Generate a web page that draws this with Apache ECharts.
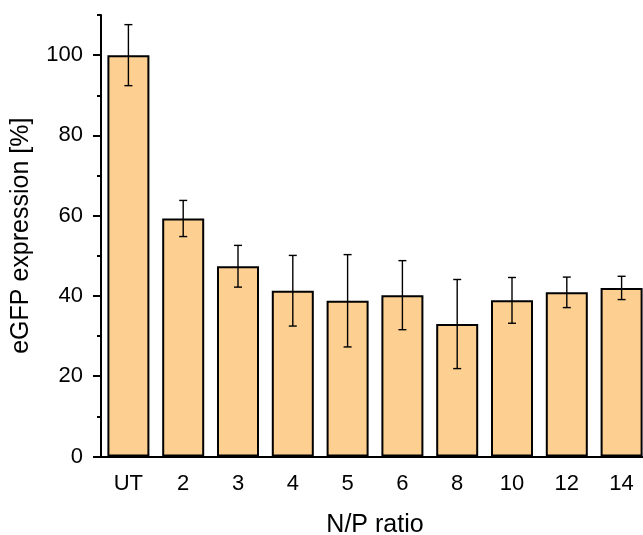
<!DOCTYPE html>
<html>
<head>
<meta charset="utf-8">
<script src="https://cdn.jsdelivr.net/npm/echarts@6/dist/echarts.min.js"></script>
<style>
  html, body { margin: 0; padding: 0; background: #ffffff; }
  #chart { width: 643px; height: 535px; }
</style>
</head>
<body>
<div id="chart"></div>
<script>
// N/P ratio groups and eGFP expression (mean ± SD, % of untreated)
var categories = ['UT', '2', '3', '4', '5', '6', '8', '10', '12', '14'];
var meanValues = [100, 59.3, 47.4, 41.3, 38.8, 40.2, 33.0, 38.9, 40.9, 42.0];
var sdValues   = [7.6, 4.5, 5.2, 8.8, 11.5, 8.6, 11.1, 5.7, 3.8, 2.9];
var majorTickValues = [0, 20, 40, 60, 80, 100];
var minorTickValues = [10, 30, 50, 70, 90, 110];

var FONT = 'Liberation Sans, Arial, sans-serif';
var INK = '#000000';

var errorData = meanValues.map(function (m, i) {
  return [i, m - sdValues[i], m + sdValues[i]];
});

var chart = echarts.init(document.getElementById('chart'), null, { renderer: 'canvas' });

chart.setOption({
  backgroundColor: '#ffffff',
  animation: false,
  grid: {
    left: 101, top: 15, bottom: 78.5, right: -6,
    containLabel: false,
    outerBoundsMode: 'none'
  },
  xAxis: [
    {
      type: 'category',
      data: categories,
      name: 'N/P ratio',
      nameLocation: 'middle',
      nameGap: 56,
      nameTextStyle: { fontFamily: FONT, fontSize: 25, color: INK },
      axisLine: { lineStyle: { color: INK, width: 2 } },
      axisTick: { alignWithLabel: true, length: 8, lineStyle: { color: INK, width: 2 } },
      axisLabel: { fontFamily: FONT, fontSize: 22, color: INK, margin: 16 },
      splitLine: { show: false }
    },
    {
      type: 'category',
      data: categories,
      position: 'bottom',
      axisLine: { show: false },
      axisTick: { length: 4, lineStyle: { color: INK, width: 2 } },
      axisLabel: { show: false },
      splitLine: { show: false }
    }
  ],
  yAxis: [
    {
      type: 'value',
      min: 0,
      max: 110,
      interval: 10,
      name: 'eGFP expression [%]',
      nameLocation: 'middle',
      nameGap: 67,
      nameTextStyle: { fontFamily: FONT, fontSize: 25, color: INK },
      axisLine: { show: true, lineStyle: { color: INK, width: 2 } },
      axisTick: { show: true, length: 8, customValues: majorTickValues, lineStyle: { color: INK, width: 2 } },
      axisLabel: { fontFamily: FONT, fontSize: 22, color: INK, margin: 18, customValues: majorTickValues },
      splitLine: { show: false }
    },
    {
      type: 'value',
      min: 0,
      max: 110,
      interval: 10,
      position: 'left',
      axisLine: { show: false },
      axisTick: { show: true, length: 4, customValues: minorTickValues, lineStyle: { color: INK, width: 2 } },
      axisLabel: { show: false },
      splitLine: { show: false }
    }
  ],
  series: [
    {
      type: 'bar',
      xAxisIndex: 0,
      yAxisIndex: 0,
      data: meanValues,
      barWidth: 42,
      itemStyle: { color: '#FDCF90', borderColor: INK, borderWidth: 2 }
    },
    {
      type: 'custom',
      xAxisIndex: 0,
      yAxisIndex: 0,
      data: errorData,
      z: 10,
      renderItem: function (params, api) {
        var x = api.value(0);
        var lo = api.coord([x, api.value(1)]);
        var hi = api.coord([x, api.value(2)]);
        var cap = 4;
        var style = { stroke: INK, lineWidth: 1.4 };
        return {
          type: 'group',
          children: [
            { type: 'line', shape: { x1: lo[0], y1: lo[1], x2: hi[0], y2: hi[1] }, style: style },
            { type: 'line', shape: { x1: hi[0] - cap, y1: hi[1], x2: hi[0] + cap, y2: hi[1] }, style: style },
            { type: 'line', shape: { x1: lo[0] - cap, y1: lo[1], x2: lo[0] + cap, y2: lo[1] }, style: style }
          ]
        };
      }
    }
  ]
});
</script>
</body>
</html>
